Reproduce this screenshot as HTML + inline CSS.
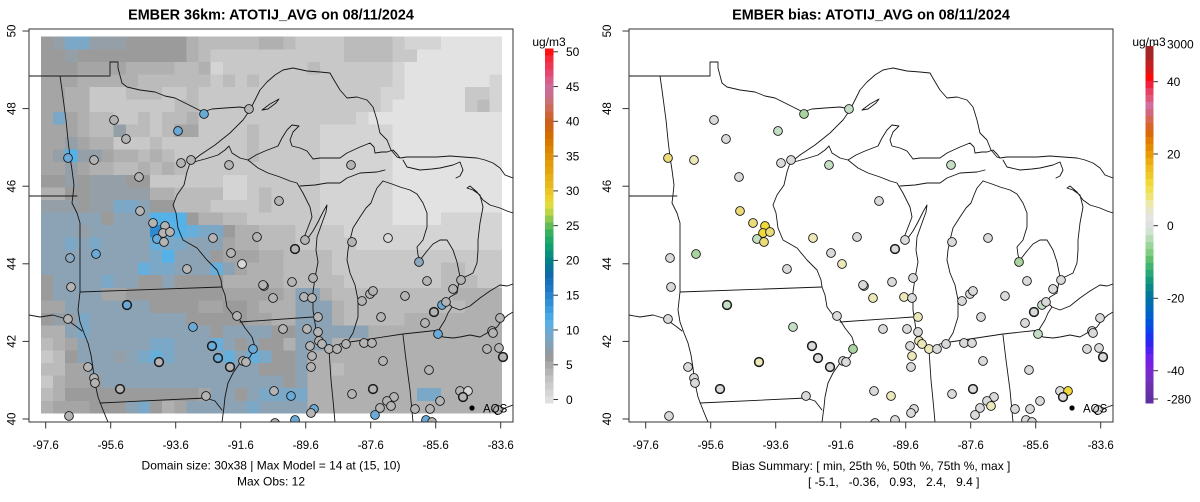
<!DOCTYPE html>
<html><head><meta charset="utf-8"><style>
html,body{margin:0;padding:0;background:#fff;}
svg{display:block;}
text{font-family:"Liberation Sans",Arial,sans-serif;fill:#000;}
</style></head><body>
<svg id="s" width="1200" height="502" viewBox="0 0 1200 502" xmlns="http://www.w3.org/2000/svg">
<rect width="1200" height="502" fill="#fff"/>
<defs>
 <clipPath id="cl"><rect x="29" y="29" width="484" height="393"/></clipPath>
 <clipPath id="cr"><rect x="629" y="29" width="484" height="393"/></clipPath>
 <g id="map" fill="none" stroke="#151515" stroke-width="0.9" stroke-linejoin="round" stroke-linecap="round">
  <path d="M29,76 L110,76 L110,62 L118,62 L118,68 L122,83 L127,87 L140,90 L155,92 L165,96 L175,98 L185,103 L197,109 L203,112 L212,109 L225,108 L240,107 L250,109"/>
  <path d="M190,163 L200,155 L215,145 L230,133 L243,120 L250,110 L255,100 L260,90 L267,82 L275,75 L283,70 L293,68 L307,71 L320,72 L330,73 L334,80 L340,90 L347,98 L357,97 L367,100 L373,107 L377,120 L380,133 L387,140 L391,150 L397,157 L400,158"/>
  <path d="M190,163 L205,159 L218,155 L225,150 L229,146 L232,153 L240,158 L248,160 L256,155 L265,151 L278,146 L282,138 L287,130 L292,125 L299,126 L293,132 L290,140 L292,146 L300,148 L307,151 L313,159 L320,158 L327,158 L340,158 L347,153 L360,147 L370,143 L374,147 L375,153 L382,152 L387,152 L393,150 L397,154 L400,158"/>
  <path d="M262,110 L270,104 L279,99 L276,103 L268,109 Z"/>
  <path d="M400,158 L407,157 L420,157 L437,157 L450,156 L463,157 L477,158 L485,160 L493,163 L500,168 L505,175 L513,178"/>
  <path d="M403,160 L407,167 L420,170 L432,169 L440,168 L453,165 L460,162 L463,170 L460,176 L456,178"/>
  <path d="M248,160 L258,168 L268,173 L280,177 L290,181 L297,183 L303,193 L310,207 L312,217 L307,230 L303,240"/>
  <path d="M303,240 L308,238 L313,231 L318,222 L323,212 L327,205 L326,212 L322,223 L317,237 L316,250 L318,262 L315,278 L313,292 L313,310 L315,323 L317,337 L323,345 L330,350 L340,344 L348,341 L353,333 L358,317 L358,300 L355,285 L350,273 L347,260 L348,250 L350,240 L353,228 L360,217 L366,208 L371,203 L374,195 L377,188 L383,181"/>
  <path d="M300,186 L315,185 L327,183 L340,183 L347,178 L360,173 L377,172 L385,170"/>
  <path d="M383,181 L392,184 L400,187 L410,190 L417,194 L423,203 L427,213 L427,227 L423,240 L417,247 L418,255 L420,260 L427,251 L433,244 L440,240 L447,240 L453,250 L457,262 L460,277 L458,287 L457,293 L450,297 L447,302 L452,307 L448,313 L445,320 L440,328 L438,332 L443,337 L453,338 L460,337 L470,335 L480,337 L487,333 L497,327 L502,320 L508,315 L513,312"/>
  <path d="M460,279 L467,276 L473,273 L477,263 L478,250 L478,240 L480,223 L483,207 L480,195 L473,190 L467,188 L470,186 L477,192 L483,200 L490,205 L500,208 L507,211 L513,213"/>
  <path d="M452,307 L460,310 L470,306 L480,298 L490,291 L500,285 L507,286 L513,284"/>
  <path d="M60,76 L62,90 L64,105 L66,120 L68,140 L70,157 L72,170 L74,185 L73,195 L72,203 L77,213 L80,223 L80,292 L78,310 L80,322 L84,333 L88,343 L91,355 L93,368 L95,383 L98,397 L103,410 L108,422"/>
  <path d="M29,196 L77,196"/>
  <path d="M29,315 L40,317 L53,315 L63,318 L70,322 L77,327 L82,331"/>
  <path d="M80,292 L222,287"/>
  <path d="M100,403 L206,398 L215,401 L222,410"/>
  <path d="M190,163 L187,172 L184,185 L177,195 L173,205 L176,213 L178,228 L183,240 L197,248 L207,260 L217,270 L221,280 L222,287 L225,295 L227,307 L233,315 L240,320 L245,328 L252,337 L255,347 L250,357 L240,363 L233,373 L228,383 L225,397 L224,407 L222,422"/>
  <path d="M240,322 L313,317"/>
  <path d="M329,350 L331,380 L333,400 L335,422"/>
  <path d="M403,335 L406,360 L410,390 L413,422"/>
  <path d="M350,342 L403,334 L440,330"/>
  <path d="M500,412 L505,408 L513,405"/>
 </g>
</defs>

<g id="grid" shape-rendering="crispEdges"></g>
<g clip-path="url(#cl)"><use href="#map"/><g id="cL"></g></g>
<g clip-path="url(#cr)"><use href="#map" transform="translate(600,0)"/><g id="cR"></g></g>

<circle cx="472" cy="408" r="2.6" fill="#000"/>
<text x="483" y="412.5" font-size="11.5">AQS</text>
<circle cx="1072" cy="408" r="2.6" fill="#000"/>
<text x="1083" y="412.5" font-size="11.5">AQS</text>

<rect x="29" y="29" width="484" height="393" fill="none" stroke="#333" stroke-width="1"/>
<rect x="629" y="29" width="484" height="393" fill="none" stroke="#333" stroke-width="1"/>

<g stroke="#333" stroke-width="1" id="ticks"></g>

<text x="271" y="19.5" font-size="14.4" font-weight="bold" text-anchor="middle">EMBER 36km: ATOTIJ_AVG on 08/11/2024</text>
<text x="871" y="19.5" font-size="14.4" font-weight="bold" text-anchor="middle">EMBER bias: ATOTIJ_AVG on 08/11/2024</text>

<text x="271" y="469.5" font-size="12" text-anchor="middle">Domain size: 30x38 | Max Model = 14 at (15, 10)</text>
<text x="271" y="485.5" font-size="12" text-anchor="middle">Max Obs: 12</text>
<text x="871" y="470" font-size="12" text-anchor="middle">Bias Summary: [ min, 25th %, 50th %, 75th %, max ]</text>
<text x="808" y="486" font-size="12" xml:space="preserve" style="white-space:pre">[ -5.1,   -0.36,   0.93,   2.4,   9.4 ]</text>

<text x="549" y="46" font-size="12" text-anchor="middle">ug/m3</text>
<text x="1149" y="46" font-size="12" text-anchor="middle">ug/m3</text>
<g id="bars" shape-rendering="crispEdges"></g>
<g id="barlab" font-size="12"></g>
<g id="axlab" font-size="11.5"></g>
</svg>
<script>
(function(){
var NS='http://www.w3.org/2000/svg';
function el(p,tag,a,txt){var e=document.createElementNS(NS,tag);for(var k in a)e.setAttribute(k,a[k]);if(txt!==undefined)e.textContent=txt;p.appendChild(e);return e;}
var G=[
"89bb9998888865555"+"566544445555433322222",
"88988888888865444"+"444444445555442222222",
"88877776666556344"+"444445444444322222222",
"77766666555555454"+"544444444444322222223",
"77664445554454444"+"444444444443322222443",
"77664444444554444"+"444444444443222222453",
"7b765544545564444"+"444444444322222222222",
"77765595545774444"+"544444333333222222222",
"77976644454444444"+"544444333333222222222",
"79d99766565444444"+"544444333333222222222",
"77976655656544444"+"444444333333222222222",
"88989998844444433"+"444444333333222222222",
"66889999966555533"+"454444333333222222222",
"999899bba88555444"+"454444333333222222222",
"aaaaa8aaaddd86655"+"444444333333222233333",
"aaa9aaaaafcdcbb86"+"655544443333333333333",
"aababaaaacbbaaa76"+"655544444333333333333",
"aaaaaaaaabdaaa877"+"766555544444444444444",
"aaaaaaaacbbaaaca7"+"666555544444444455444",
"8aaaabaa88a888866"+"666555554444444455544",
"8aaaa778888888877"+"7776aa655555555556666",
"77aaaaaaa88887788"+"7666aaa65555555555666",
"899baaaaaaaa88888"+"7766aaa65555566666666",
"66abaaaaaaaaaa8aa"+"aa88aaaaaa66666666666",
"567aaaaaabbaaaca8"+"a886aaa66666666666666",
"458aaa9abcbaaaaca"+"cb88a6666666666666666",
"5577aaaaaaaaaaaaa"+"a888a6656666666666666",
"46778aaaaaaaaaaaa"+"aaa8a6666666666666666",
"56888888888887aa8"+"abbbb666666666bb66666",
"6777888ab867aaaaa"+"baaaa6666666666666666"];
var pal={'1':'#ebebeb','2':'#e2e2e2','3':'#d4d4d4','4':'#c8c8c8','5':'#bbbbbb','6':'#b0b0b0','7':'#a5a5a5','8':'#9b9b9b','9':'#959fa8','a':'#8ca3b5','b':'#7ca8c7','c':'#68aedb','d':'#55b2e8','e':'#40a0e0','f':'#2d8ad0'};
var g=document.getElementById('grid');
var x0=41,y0=36.7,cw=(501.6-41)/38,ch=(413.3-36.7)/30;
for(var r=0;r<30;r++){var row=G[r];for(var c=0;c<38;c++){var k=row.charAt(c)||'6';
 el(g,'rect',{x:(x0+c*cw).toFixed(2),y:(y0+r*ch).toFixed(2),width:(cw+0.4).toFixed(2),height:(ch+0.4).toFixed(2),fill:pal[k]||'#b0b0b0'});}}

var S=[
[68,158,'B','y',0],[94,160,'g','l',0],[114,120,'g','n',0],[126,139,'g','n',0],[139,177,'g','n',0],[178,131,'B','e',0],[204,114,'B','E',0],[249,109,'g','e',0],[181,163,'g','n',0],[191,160,'g','n',0],[229,165,'g','e',0],[279,201,'g','n',0],[140,211,'g','y',0],[153,223,'g','y',0],[165,226,'g','Y',0],[163,233,'g','Y',0],[170,232,'g','y',0],[157,239,'B','e',0],[164,242,'g','y',0],[213,238,'g','l',0],[257,237,'g','n',0],[231,253,'g','n',0],[242,264,'w','l',0],[70,258,'b','n',0],[96,254,'B','E',0],[187,269,'g','n',0],[71,287,'g','n',0],[264,286,'g','n',0],[273,298,'g','l',0],[127,305,'B','e',1],[68,319,'g','n',0],[237,316,'g','n',0],[193,327,'B','e',0],[283,329,'g','n',0],[212,346,'B','n',1],[253,349,'B','E',0],[218,358,'B','n',1],[159,362,'g','l',1],[243,361,'g','n',0],[246,362,'g','n',0],[230,367,'g','n',1],[88,367,'g','n',0],[94,378,'g','n',0],[95,383,'g','n',0],[120,389,'g','n',1],[206,396,'g','n',0],[274,391,'g','n',0],[291,396,'B','l',0],[69,416,'g','n',0],[275,423,'g','n',0],[295,420,'B','n',0],
[305,240,'g','n',0],[295,249,'g','n',1],[352,242,'g','n',0],[388,238,'w','n',0],[419,262,'b','E',0],[313,278,'g','n',0],[292,282,'g','n',0],[263,285,'g','n',0],[304,297,'g','l',0],[312,298,'g','n',0],[362,301,'g','n',0],[370,294,'g','n',0],[373,291,'g','n',0],[405,296,'g','n',0],[427,281,'g','n',0],[461,280,'g','n',0],[453,289,'g','n',0],[442,305,'B','e',0],[446,302,'g','n',0],[434,312,'g','n',1],[381,317,'g','n',0],[318,317,'g','l',0],[500,318,'g','n',0],[425,323,'g','n',0],[438,334,'B','e',0],[492,331,'g','n',0],[493,333,'g','n',0],[307,329,'g','n',0],[318,332,'g','n',0],[319,341,'g','l',0],[322,344,'g','l',0],[310,346,'g','n',0],[329,349,'g','l',0],[337,349,'g','n',0],[346,344,'g','n',0],[364,343,'g','n',0],[372,343,'g','n',0],[487,349,'g','n',0],[499,348,'g','n',0],[503,357,'g','n',1],[312,356,'g','l',0],[311,367,'g','n',0],[383,361,'g','n',0],[429,370,'g','n',0],[352,394,'g','n',0],[373,389,'g','n',1],[394,397,'g','n',0],[387,401,'g','n',0],[391,406,'g','l',0],[380,408,'g','n',0],[375,415,'B','n',0],[415,409,'g','n',0],[430,409,'g','n',0],[440,401,'g','n',0],[460,391,'g','n',0],[468,391,'w','Y',0],[463,397,'g','n',1],[498,410,'g','n',0],[426,420,'B','n',0],[432,422,'g','n',0],[314,409,'B','n',0],[311,413,'g','n',0],[351,165,'g','e',0]];
var LC={g:'#b4b4b4',G:'#a4a4a4',w:'#d8d8d8',B:'#6aaad8',b:'#8aa8c0'};
var RC={n:'#dadada',Y:'#f0d838',y:'#ecdc78',l:'#ece8b8',E:'#a8d4a0',e:'#c4dec4'};
var cL=document.getElementById('cL'),cR=document.getElementById('cR');
S.forEach(function(s){
 var sw=s[4]?1.5:0.9;
 el(cL,'circle',{cx:s[0],cy:s[1],r:4.4,fill:LC[s[2]],stroke:'#1a1a1a','stroke-width':sw});
 el(cR,'circle',{cx:s[0]+600,cy:s[1],r:4.4,fill:RC[s[3]],stroke:'#1a1a1a','stroke-width':sw});
});

var LB=['#e0e0e0','#d6d6d6','#cccccc','#c2c2c2','#b5b5b5','#a8a8a8','#9a9a9a','#8e9aa4','#84a0b4','#78a6c4','#6aaad4','#5ab0e4','#4aa8e4','#3c9cdc','#3090d4','#2884cc','#2078c4','#1870b8','#0e6aa8','#08749c','#048088','#08907c','#10a070','#20a868','#38b060','#60bc58','#90c850','#c0d448','#e0dc40','#ecd030','#ecc428','#e8b820','#e8b018','#e4a410','#e49c0c','#e09008','#dc8404','#d87800','#d46c00','#d06410','#cc6020','#cc6438','#cc6c58','#c87078','#c86c90','#cc6a98','#d85c88','#e44870','#ec3854','#f42838','#ff1010'];
var bars=document.getElementById('bars'),bl=document.getElementById('barlab'),tk=document.getElementById('ticks');
var bh=(403-48.3)/51;
for(var i=0;i<51;i++){el(bars,'rect',{x:545,y:(403-(i+1)*bh).toFixed(2),width:8.5,height:(bh+0.4).toFixed(2),fill:LB[i]});}
for(var v=0;v<=50;v+=5){var yy=403-(v+0.5)*bh;
 el(tk,'line',{x1:553.5,y1:yy,x2:558,y2:yy});
 el(bl,'text',{x:566,y:(yy+4.3).toFixed(1)},String(v));}
var RB=['#a02828','#a82424','#c02020','#d81818','#ff0808','#f02040','#e84060','#e05878','#d070a0','#d06880','#d46850','#d86428','#dc6a08','#e07c00','#e48c00','#e89c04','#ecac10','#eebc20','#f0c828','#f0d838','#f0e050','#f0e478','#ece8a8','#e8e6c8','#e4e4e0','#e0e0e0','#d0e4d0','#b8dcb8','#9cd49c','#80cc80','#60c070','#40b470','#28a878','#14987c','#088888','#047898','#0070a8','#0068bc','#0060cc','#0054dc','#0a44ec','#1834f0','#3424f0','#5020f0','#6c20ec','#7c20e0','#7c28d0','#7430c0','#6c30b0','#6830a8','#6030a0'];
var rh=(403-46)/51;
for(var j=0;j<51;j++){el(bars,'rect',{x:1145.5,y:(46+j*rh).toFixed(2),width:8,height:(rh+0.4).toFixed(2),fill:RB[j]});}
[[44.3,'3000'],[81.7,'40'],[154,'20'],[225.7,'0'],[298.3,'-20'],[370.7,'-40'],[399,'-280']].forEach(function(t){
 el(tk,'line',{x1:1153.5,y1:t[0],x2:1158,y2:t[0]});
 el(bl,'text',{x:1167,y:(t[0]+4.3).toFixed(1)},t[1]);});

var al=document.getElementById('axlab');
var xl=['-97.6','-95.6','-93.6','-91.6','-89.6','-87.6','-85.6','-83.6'];
var yl=['50','48','46','44','42','40'];
[[0,15.5],[600,611]].forEach(function(p){var off=p[0];
 for(var a=0;a<8;a++){var xx=45.7+65*a+off;
  el(tk,'line',{x1:xx,y1:422,x2:xx,y2:428.5});
  el(al,'text',{x:xx,y:449,'text-anchor':'middle'},xl[a]);}
 for(var b=0;b<6;b++){var yv=31+77.6*b;
  el(tk,'line',{x1:29+off,y1:yv,x2:22.5+off,y2:yv});
  el(al,'text',{transform:'translate('+p[1]+','+yv+') rotate(-90)','text-anchor':'middle'},yl[b]);}
});
})();
</script>
</body></html>
